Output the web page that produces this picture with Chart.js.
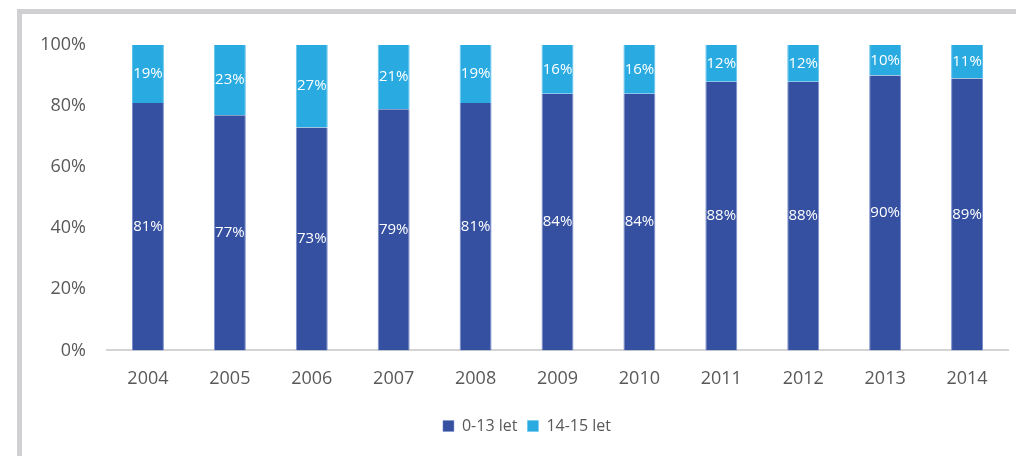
<!DOCTYPE html>
<html>
<head>
<meta charset="utf-8">
<script src="https://cdn.jsdelivr.net/npm/chart.js@4"></script>
<style>
  html, body { margin: 0; padding: 0; background: #fff; }
  #wrap { position: relative; width: 1016px; height: 456px; overflow: hidden; }
  #frame {
    position: absolute; left: 17px; top: 9px; width: 1100px; height: 500px;
    border-top: 5px solid #d0d0d2; border-left: 5px solid #d0d0d2;
  }
  #chart { position: absolute; left: 0; top: 0; }
</style>
</head>
<body>
<div id="wrap">
  <div id="frame"></div>
  <canvas id="chart" width="1016" height="456"></canvas>
</div>
<script>
const years = ['2004', '2005', '2006', '2007', '2008', '2009', '2010', '2011', '2012', '2013', '2014'];
const younger = [81, 77, 73, 79, 81, 84, 84, 88, 88, 90, 89];   // 0-13 let
const older = [19, 23, 27, 21, 19, 16, 16, 12, 12, 10, 11];     // 14-15 let
const yTicks = [0, 20, 40, 60, 80, 100];

const fontFamily = '"Open Sans", "DejaVu Sans", sans-serif';

// white percentage text in the middle of every segment
const segmentLabels = {
  id: 'segmentLabels',
  afterDatasetsDraw(chart) {
    const ctx = chart.ctx;
    ctx.save();
    ctx.fillStyle = '#ffffff';
    ctx.font = '15px ' + fontFamily;
    ctx.textAlign = 'center';
    ctx.textBaseline = 'middle';
    chart.data.datasets.forEach((ds, i) => {
      chart.getDatasetMeta(i).data.forEach((bar, j) => {
        const mid = (bar.y + bar.base) / 2;
        ctx.fillText(ds.data[j] + '%', bar.x, mid);
      });
    });
    ctx.restore();
  }
};

// nudge the legend a little to the right of the canvas centre
const legendShift = {
  id: 'legendShift',
  afterLayout(chart) {
    const lg = chart.legend;
    if (!lg) return;
    lg.left += 8;
    lg.right += 8;
  }
};

new Chart(document.getElementById('chart').getContext('2d'), {
  type: 'bar',
  data: {
    labels: years,
    datasets: [
      {
        label: '0-13 let',
        data: younger,
        backgroundColor: '#3550a0',
        borderColor: '#7d8fcc',
        borderWidth: { left: 1, right: 1, top: 0, bottom: 0 },
        borderSkipped: false,
        barPercentage: 1,
        categoryPercentage: 0.39
      },
      {
        label: '14-15 let',
        data: older,
        backgroundColor: '#29abe2',
        borderColor: '#62c3ec',
        borderWidth: { left: 1, right: 1, top: 0, bottom: 0 },
        borderSkipped: false,
        barPercentage: 1,
        categoryPercentage: 0.39
      }
    ]
  },
  options: {
    responsive: false,
    animation: false,
    layout: { padding: { left: 30, right: 8, top: 45, bottom: 12 } },
    plugins: {
      legend: {
        position: 'bottom',
        labels: {
          boxWidth: 11,
          boxHeight: 11,
          padding: 10,
          color: '#595959',
          font: { size: 16, family: fontFamily }
        }
      },
      tooltip: { enabled: false }
    },
    scales: {
      x: {
        stacked: true,
        grid: { display: false, drawTicks: false },
        border: { display: true, color: '#d4d4d4', width: 2 },
        ticks: { color: '#595959', padding: 18, font: { size: 18, family: fontFamily } }
      },
      y: {
        stacked: true,
        min: 0,
        max: 100,
        afterFit(scale) { scale.width = 77; },
        afterBuildTicks(scale) { scale.ticks = yTicks.map(v => ({ value: v })); },
        grid: { display: false, drawTicks: false },
        border: { display: false },
        ticks: {
          color: '#595959',
          padding: 21,
          font: { size: 18, family: fontFamily },
          callback: v => v + '%'
        }
      }
    }
  },
  plugins: [segmentLabels, legendShift]
});
</script>
</body>
</html>
